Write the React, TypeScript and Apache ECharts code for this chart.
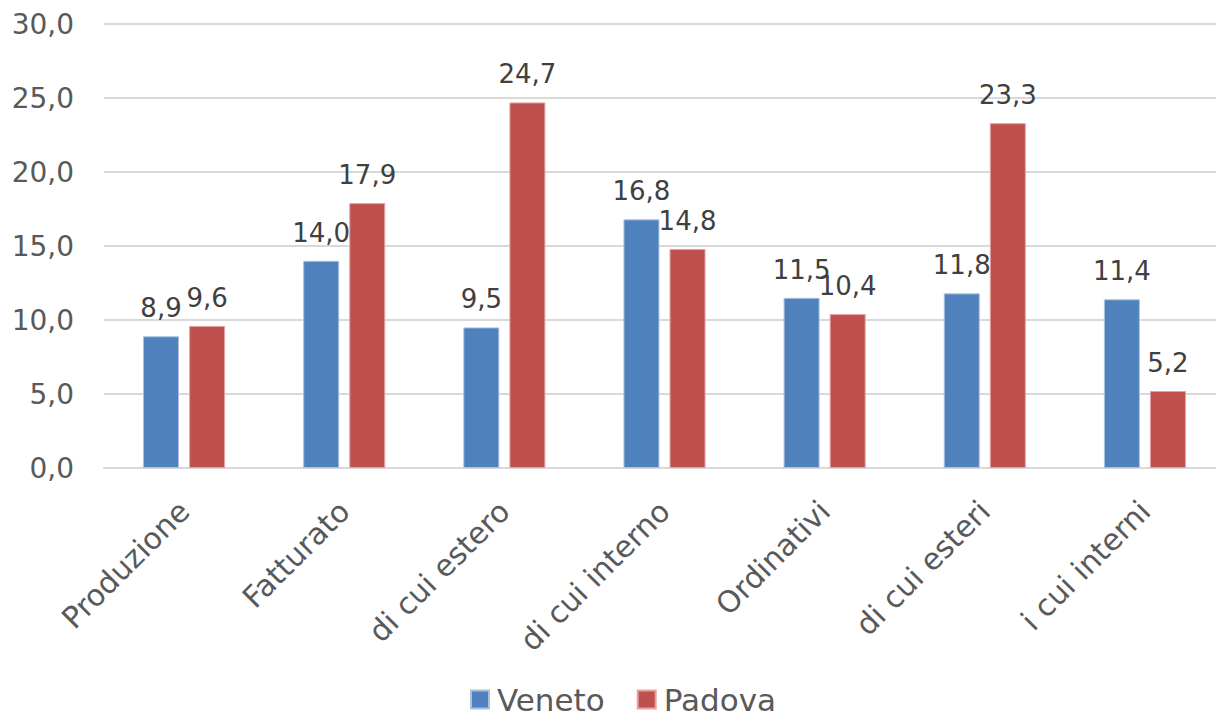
import React, { useEffect, useRef } from "react";
import * as echarts from "echarts";

const categories = [
  "Produzione",
  "Fatturato",
  "di cui estero",
  "di cui interno",
  "Ordinativi",
  "di cui esteri",
  "i cui interni",
];
const veneto = [8.9, 14.0, 9.5, 16.8, 11.5, 11.8, 11.4];
const padova = [9.6, 17.9, 24.7, 14.8, 10.4, 23.3, 5.2];

const FONT = "DejaVu Sans";
const fmt = (v: number) => v.toFixed(1).replace(".", ",");

export default function App() {
  const ref = useRef<HTMLDivElement>(null);
  useEffect(() => {
    document.body.style.margin = "0";
    document.body.style.overflow = "hidden";
    document.documentElement.style.overflow = "hidden";
    const chart = echarts.init(ref.current!, null, { renderer: "svg" });
    const label = {
      show: true,
      position: "top",
      distance: 15,
      formatter: (p: any) => fmt(p.value),
      fontSize: 26,
      color: "#404040",
      fontFamily: FONT,
    };
    chart.setOption({
      animation: false,
      textStyle: { fontFamily: FONT },
      grid: { left: 104, right: 0, top: 24, bottom: 253, containLabel: false },
      legend: {
        top: 684,
        left: 470,
        padding: 0,
        itemWidth: 18,
        itemHeight: 18,
        itemGap: 32,
        icon: "rect",
        textStyle: { fontSize: 31, color: "#595959", fontFamily: FONT, padding: [0, 0, 0, 3] },
        data: ["Veneto", "Padova"],
      },
      xAxis: {
        type: "category",
        data: categories,
        axisLine: { lineStyle: { color: "#d9d9d9", width: 2 } },
        axisTick: { show: false },
        axisLabel: {
          rotate: 45,
          interval: 0,
          fontSize: 30,
          color: "#595959",
          margin: 38,
          fontFamily: FONT,
        },
      },
      yAxis: {
        type: "value",
        min: 0,
        max: 30,
        interval: 5,
        axisLine: { show: false },
        axisTick: { show: false },
        splitLine: { lineStyle: { color: "#d9d9d9", width: 2 } },
        axisLabel: {
          formatter: (v: number) => fmt(v),
          fontSize: 28,
          color: "#595959",
          margin: 30,
          fontFamily: FONT,
        },
      },
      series: [
        {
          name: "Veneto",
          type: "bar",
          data: veneto,
          barWidth: 36,
          barGap: "28%",
          itemStyle: { color: "#4F81BD", borderColor: "#a9c2e2", borderWidth: 1 },
          label,
        },
        {
          name: "Padova",
          type: "bar",
          data: padova,
          barWidth: 36,
          itemStyle: { color: "#C0504D", borderColor: "#e5a3a1", borderWidth: 1 },
          label,
        },
      ],
    });
    return () => chart.dispose();
  }, []);
  return <div ref={ref} style={{ width: 1225, height: 721 }} />;
}
